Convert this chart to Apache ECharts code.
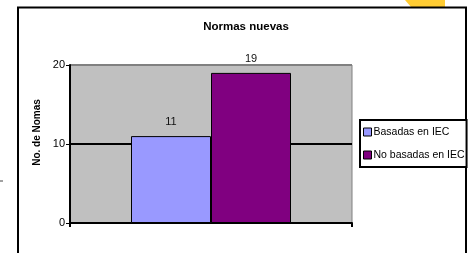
<!DOCTYPE html>
<html>
<head>
<meta charset="utf-8">
<script src="https://cdn.jsdelivr.net/npm/echarts@6/dist/echarts.min.js"></script>
<style>
html, body { margin: 0; padding: 0; background: #fff; }
#main { width: 471px; height: 253px; }
</style>
</head>
<body>
<div id="main"></div>
<script>
// datos del grafico
var categorias = ['Normas nuevas'];
var nombresSeries = ['Basadas en IEC', 'No basadas en IEC'];
var basadas = [11];
var noBasadas = [19];
var colores = ['#9999FF', '#800080'];
var yTicks = [0, 10, 20];

var Chart = echarts.init(document.getElementById('main'));

var fuente = 'Liberation Sans, Arial, sans-serif';

var option = {
    backgroundColor: '#fff',
    animation: false,
    textStyle: { fontFamily: fuente },
    title: {
        text: 'Normas nuevas',
        left: 241,
        top: 16,
        textAlign: 'center',
        textStyle: { fontSize: 11.5, fontWeight: 'bold', color: '#000', fontFamily: fuente }
    },
    legend: {
        orient: 'vertical',
        left: 360,
        top: 120,
        width: 107,
        padding: [6, 2, 6, 3],
        borderColor: '#000',
        borderWidth: 2,
        backgroundColor: '#fff',
        itemWidth: 8,
        itemHeight: 8,
        itemGap: 11,
        icon: 'rect',
        data: nombresSeries,
        itemStyle: { borderColor: '#000', borderWidth: 1 },
        textStyle: { fontSize: 10.5, lineHeight: 12, color: '#000', fontFamily: fuente, padding: [0, 0, 0, -3] }
    },
    grid: {
        left: 70,
        right: 119,
        top: 65,
        bottom: 30,
        show: true,
        backgroundColor: '#C0C0C0',
        borderColor: '#808080',
        borderWidth: 1
    },
    xAxis: {
        type: 'category',
        data: categorias,
        axisLine: { lineStyle: { color: '#000', width: 2 } },
        axisTick: { show: true, length: 4, lineStyle: { color: '#000', width: 2 } },
        axisLabel: { show: false }
    },
    yAxis: {
        type: 'value',
        min: 0,
        max: yTicks[yTicks.length - 1],
        interval: 10,
        name: 'No. de Nomas',
        nameLocation: 'middle',
        nameRotate: 90,
        nameGap: 27,
        nameTextStyle: { fontSize: 10, fontWeight: 'bold', color: '#000', fontFamily: fuente, padding: [0, 0, 0, 23] },
        axisLine: { show: true, lineStyle: { color: '#000', width: 2 } },
        axisTick: { show: true, length: 4, lineStyle: { color: '#000', width: 1 } },
        axisLabel: { fontSize: 11, color: '#000', margin: 5, fontFamily: fuente },
        splitLine: { show: true, lineStyle: { color: ['#000', '#000', '#808080'], width: 2 } }
    },
    series: [
        {
            name: nombresSeries[0],
            type: 'bar',
            data: basadas,
            barWidth: 80,
            barGap: '0%',
            itemStyle: { color: colores[0], borderColor: '#000', borderWidth: 1 },
            label: { show: true, position: 'top', distance: 9, fontSize: 11, color: '#111', fontFamily: fuente }
        },
        {
            name: nombresSeries[1],
            type: 'bar',
            data: noBasadas,
            barWidth: 80,
            barGap: '0%',
            itemStyle: { color: colores[1], borderColor: '#000', borderWidth: 1 },
            label: { show: true, position: 'top', distance: 8, fontSize: 11, color: '#111', fontFamily: fuente }
        }
    ],
    graphic: [
        {
            type: 'polygon',
            shape: { points: [[405, 0], [445, 0], [445, 7], [411, 7]] },
            style: { fill: '#FFCC33' },
            z: 0
        },
        {
            type: 'rect',
            shape: { x: 18, y: 7.5, width: 448, height: 260 },
            style: { fill: 'none', stroke: '#000', lineWidth: 2 },
            z: 1
        },
        {
            type: 'line',
            shape: { x1: 0, y1: 181, x2: 3, y2: 181 },
            style: { stroke: '#444', lineWidth: 1 },
            z: 1
        }
    ]
};

Chart.setOption(option);
</script>
</body>
</html>
